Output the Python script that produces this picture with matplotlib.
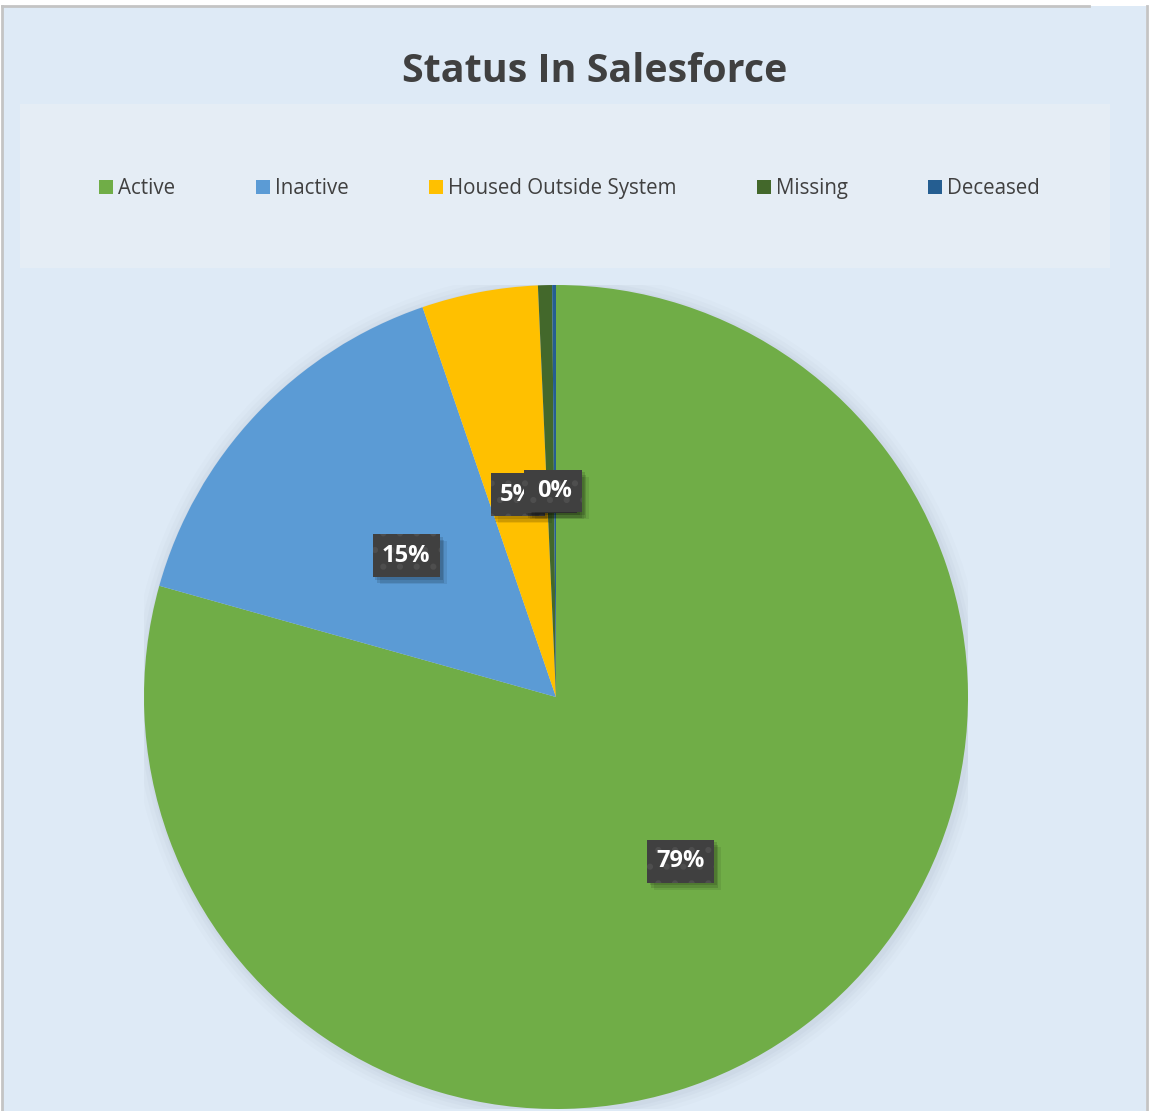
import matplotlib
matplotlib.use("Agg")
import matplotlib.pyplot as plt
from matplotlib.patches import Rectangle, Circle
import matplotlib.patheffects as pe
import numpy as np

# ---- data ----
categories = ["Active", "Inactive", "Housed Outside System", "Missing", "Deceased"]
values = [79.35, 15.4, 4.55, 0.55, 0.15]
colors = ["#70AD47", "#5B9BD5", "#FFC000", "#43682B", "#255E91"]
title = "Status In Salesforce"

W, H = 1153, 1111
plt.rcParams['font.family'] = ['Open Sans', 'DejaVu Sans']
plt.rcParams['hatch.linewidth'] = 2.0

fig = plt.figure(figsize=(W / 100, H / 100), dpi=100, facecolor="white")

def fx(px):
    return px / W

def fy(py):
    return 1 - py / H


class SoftShadow(pe.AbstractPathEffect):
    """Plain (unhatched) shadow behind a patch."""
    def __init__(self, offset, alpha):
        super().__init__(offset)
        self.alpha = alpha

    def draw_path(self, renderer, gc, tpath, affine, rgbFace):
        gc0 = renderer.new_gc()
        gc0.copy_properties(gc)
        gc0.set_hatch(None)
        gc0.set_linewidth(0)
        gc0.set_alpha(self.alpha)
        renderer.draw_path(gc0, tpath, affine + self._offset_transform(renderer), (0, 0, 0))
        gc0.restore()


# chart background + frame
fig.patches.append(Rectangle((fx(2), 0), fx(1146) - fx(2), fy(6), transform=fig.transFigure,
                             facecolor="#DEEAF6", edgecolor="none", zorder=-3))
fig.lines.append(plt.Line2D([fx(2), fx(2)], [0, fy(6)], transform=fig.transFigure, color="#C4C4C4", lw=2, zorder=-2))
fig.lines.append(plt.Line2D([fx(2), fx(1089)], [fy(6), fy(6)], transform=fig.transFigure, color="#C4C4C4", lw=2, zorder=-2))
fig.lines.append(plt.Line2D([fx(1147), fx(1147)], [0, fy(6)], transform=fig.transFigure, color="#C4C4C4", lw=2, zorder=-2))

# legend area
fig.patches.append(Rectangle((fx(20), fy(268)), fx(1110) - fx(20), fy(104) - fy(268), transform=fig.transFigure,
                             facecolor="#E5EDF5", edgecolor="none", zorder=-2))

fig.text(fx(595), fy(82), title, ha="center", va="baseline", fontsize=28.4, fontweight="bold", color="#404040")

# legend entries
leg_x = [99, 256, 429, 757, 928]
for x, lab, c in zip(leg_x, categories, colors):
    fig.patches.append(Rectangle((fx(x), fy(194)), 14 / W, 14 / H, transform=fig.transFigure,
                                 facecolor=c, edgecolor="none", zorder=2))
    fig.text(fx(x + 19), fy(194), lab, ha="left", va="baseline", fontsize=14.8, color="#404040")

# pie axes
cx, cy, r = 556, 697, 412
ax = fig.add_axes([fx(cx - r), fy(cy + r), 2 * r / W, 2 * r / H])

# soft shadow around the pie
for rr, a in [(1.035, 0.03), (1.025, 0.04), (1.015, 0.05), (1.007, 0.06)]:
    ax.add_patch(Circle((0.004, -0.004), rr, facecolor="#7F8FA6", edgecolor="none", alpha=a, zorder=0))

wedges, _ = ax.pie(values, colors=colors, startangle=90, counterclock=False, radius=1.0,
                   wedgeprops=dict(linewidth=0), labels=None)
for w in wedges:
    w.set_zorder(1)
ax.set_xlim(-1, 1)
ax.set_ylim(-1, 1)
ax.axis("off")

total = sum(values)
for v, w in zip(values, wedges):
    ang = np.deg2rad((w.theta1 + w.theta2) / 2)
    x, y = 0.5 * np.cos(ang), 0.5 * np.sin(ang)
    pct = f"{int(v / total * 100 + 0.5)}%"
    t = ax.text(x, y, pct, ha="center", va="center", fontsize=17, fontweight="bold", color="white", zorder=4,
                bbox=dict(boxstyle="square,pad=0.4", facecolor="#404040", edgecolor="#4E4E4E", linewidth=0,
                          hatch="."))
    t.get_bbox_patch().set_path_effects([SoftShadow((2, -2), 0.12), SoftShadow((3, -4), 0.12),
                                         SoftShadow((5, -5), 0.08), pe.Normal()])

fig.savefig("out.png", dpi=100, facecolor="white")
